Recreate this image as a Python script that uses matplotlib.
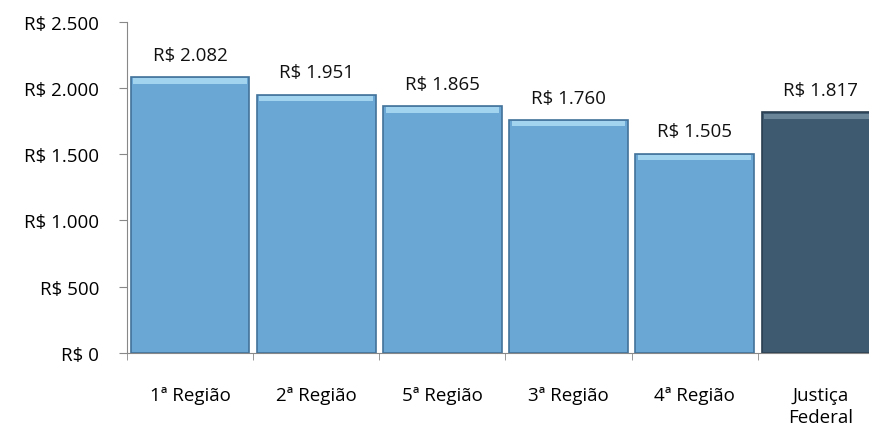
import numpy as np
import matplotlib.pyplot as plt

categories = ['1ª Região', '2ª Região', '5ª Região', '3ª Região', '4ª Região', 'Justiça\nFederal']
values = [2082, 1951, 1865, 1760, 1505, 1817]
labels = ['R$ 2.082', 'R$ 1.951', 'R$ 1.865', 'R$ 1.760', 'R$ 1.505', 'R$ 1.817']
yticks = [0, 500, 1000, 1500, 2000, 2500]
ytick_labels = ['R$ 0', 'R$ 500', 'R$ 1.000', 'R$ 1.500', 'R$ 2.000', 'R$ 2.500']

plt.rcParams['font.family'] = ['Open Sans', 'DejaVu Sans']

fig = plt.figure(figsize=(8.7, 4.39), dpi=100)
ax = fig.add_axes([0.146, 0.194, 0.87, 0.754])

x = np.arange(len(values))
colors = ['#6aa7d4'] * 5 + ['#3d5a70']
tops = ['#a2d3ef'] * 5 + ['#6a8598']
edges = ['#42729a'] * 5 + ['#2a3f50']

ax.bar(x, values, 0.94, color=colors, edgecolor=edges, linewidth=1.2, zorder=2)
# bevel highlight on top of each bar
ax.bar(x, [40] * len(values), 0.90, bottom=np.array(values) - 50, color=tops, zorder=3, linewidth=0)

fs = 13.5
for xi, v, lab in zip(x, values, labels):
    ax.text(xi, v + 100, lab, ha='center', va='bottom', fontsize=fs, color='#111111')

ax.set_xlim(-0.5, len(values) - 0.5)
ax.set_ylim(0, 2500)
ax.set_yticks(yticks)
ax.set_yticklabels(ytick_labels, fontsize=fs)
ax.set_xticks(x)
ax.set_xticklabels(categories, fontsize=fs, linespacing=1.3)
ax.set_xticks(np.arange(len(values) + 1) - 0.5, minor=True)
ax.tick_params(axis='x', which='major', length=0, pad=24)
ax.tick_params(axis='x', which='minor', length=5, color='#888888', direction='out')
ax.tick_params(axis='y', length=6, color='#888888', direction='out', pad=14)

for s in ['top', 'right']:
    ax.spines[s].set_visible(False)
for s in ['left', 'bottom']:
    ax.spines[s].set_color('#888888')

fig.savefig('out.png', dpi=100)
